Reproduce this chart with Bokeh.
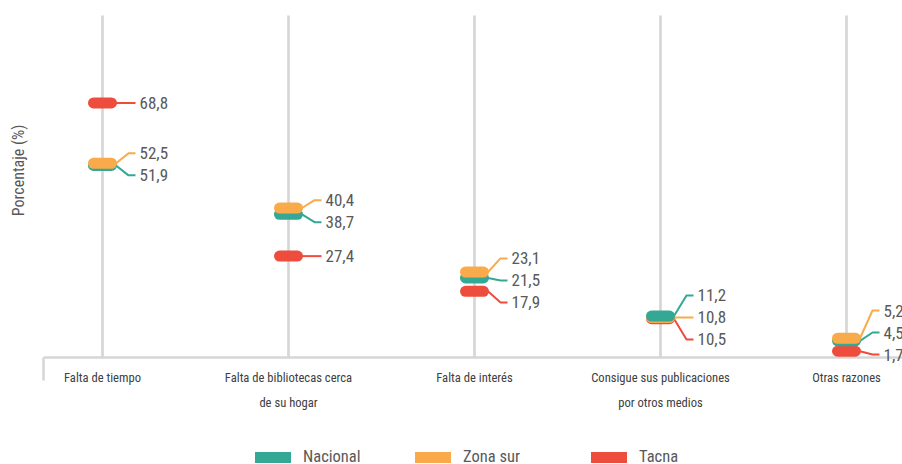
import math
from bokeh.plotting import figure
from bokeh.models import Range1d, Legend, LegendItem, Label
from bokeh.embed import file_html
from bokeh.resources import INLINE
from bokeh.core.properties import value

# ---------------- data ----------------
categories = [
    "Falta de tiempo",
    "Falta de bibliotecas cerca\nde su hogar",
    "Falta de interés",
    "Consigue sus publicaciones\npor otros medios",
    "Otras razones",
]
series_names = ["Nacional", "Zona sur", "Tacna"]
nacional = [51.9, 38.7, 21.5, 11.2, 4.5]
zona_sur = [52.5, 40.4, 23.1, 10.8, 5.2]
tacna = [68.8, 27.4, 17.9, 10.5, 1.7]
series_values = [nacional, zona_sur, tacna]
colors = ["#34A895", "#F9AB4B", "#EE4D3D"]

FONT = "'Roboto Condensed', 'Noto Sans Condensed', 'Noto Sans ExtraCondensed', Roboto, sans-serif"
TEXT_COLOR = "#595959"
GRID_COLOR = "#d6d6d6"

# ---------------- layout (pixels) ----------------
W, H = 902, 464
X0_PX = 102          # pixel position of first category
STEP_PX = 186        # pixels between categories
Y0_PX = 357          # pixel row of value 0
PX_Y = 3.70          # pixels per percentage point
AXIS_LEFT_PX = 43
GRID_TOP_PX = 15

x_start = -X0_PX / STEP_PX
x_end = (W - X0_PX) / STEP_PX
y_end = Y0_PX / PX_Y
y_start = -(H - Y0_PX) / PX_Y
px_x = STEP_PX
px_y = PX_Y

def dx(px):
    return px / px_x

def dy(px):
    return px / px_y

p = figure(width=W, height=H, x_range=Range1d(x_start, x_end), y_range=Range1d(y_start, y_end),
           output_backend="svg", toolbar_location=None,
           min_border=0, min_border_left=0, min_border_right=0, min_border_top=0, min_border_bottom=0)
p.outline_line_color = None
p.xaxis.visible = False
p.yaxis.visible = False
p.xgrid.grid_line_color = None
p.ygrid.grid_line_color = None

cat_x = list(range(len(categories)))
axis_left = x_start + dx(AXIS_LEFT_PX)
grid_top = (Y0_PX - GRID_TOP_PX) / PX_Y

# vertical gridlines at each category
p.segment(x0=cat_x, x1=cat_x, y0=[0] * len(cat_x), y1=[grid_top] * len(cat_x),
          line_color=GRID_COLOR, line_width=2.7)
# baseline axis + left bracket
p.segment(x0=[axis_left], x1=[x_end], y0=[0], y1=[0], line_color=GRID_COLOR, line_width=2.5)
p.segment(x0=[axis_left], x1=[axis_left], y0=[0], y1=[-dy(23)], line_color=GRID_COLOR, line_width=2.5)

# category labels
p.text(x=cat_x, y=[-dy(12)] * len(cat_x), text=categories, text_font=value(FONT),
       text_font_size="12.6px", text_color="#404040", text_align="center", text_baseline="top",
       text_line_height=1.7)

# y title
p.add_layout(Label(x=18, y=H - 170, x_units="screen", y_units="screen", text="Porcentaje (%)",
                   angle=math.pi / 2, text_align="center", text_baseline="middle",
                   text_font=FONT, text_font_size="16px", text_color=TEXT_COLOR))

# ---------------- label placement (spread overlapping labels) ----------------
spacing = dy(22)
min_label_y = dy(3)
half_pill = dx(9)
lx_b, lx_c, lx_t = dx(26), dx(33), dx(37)

def spread(vals):
    order = sorted(range(len(vals)), key=lambda k: -vals[k])
    groups = [[k] for k in order]
    while True:
        placed = []
        for g in groups:
            c = sum(vals[k] for k in g) / len(g)
            n = len(g)
            placed.append((g, [c + (n - 1) / 2 * spacing - j * spacing for j in range(n)]))
        merged = False
        for gi in range(len(placed) - 1):
            if placed[gi][1][-1] - placed[gi + 1][1][0] < spacing - 1e-9:
                groups = groups[:gi] + [groups[gi] + groups[gi + 1]] + groups[gi + 2:]
                merged = True
                break
        if not merged:
            break
    pos = {}
    for g, ys in placed:
        for k, yy in zip(g, ys):
            pos[k] = yy
    low = min(pos.values())
    if low < min_label_y:
        shift = min_label_y - low
        for k in pos:
            pos[k] += shift
    return pos

lead_xs, lead_ys, lead_c = [], [], []
txt_x, txt_y, txt = [], [], []
pills = []
for i in cat_x:
    vals = [s[i] for s in series_values]
    pos = spread(vals)
    for k, v in enumerate(vals):
        ly = pos[k]
        if abs(ly - v) > 1e-6:
            lead_xs.append([i + half_pill + dx(4.5), i + lx_b, i + lx_c])
            lead_ys.append([v, ly, ly])
        else:
            lead_xs.append([i + half_pill, i + lx_c])
            lead_ys.append([v, v])
        lead_c.append(colors[k])
        txt_x.append(i + lx_t)
        txt_y.append(ly)
        txt.append(f"{v:.1f}".replace(".", ","))
    for k in sorted(range(len(vals)), key=lambda k: vals[k]):
        pills.append((i, vals[k], k))

p.multi_line(xs=lead_xs, ys=lead_ys, line_color=lead_c, line_width=2)

legend_renderers = {}
for (i, v, k) in pills:
    r = p.line(x=[i - half_pill, i + half_pill], y=[v, v],
               line_color=colors[k], line_width=11, line_cap="round")
    legend_renderers.setdefault(k, r)

p.text(x=txt_x, y=txt_y, text=txt, text_font=value(FONT), text_font_size="17px",
       text_color=TEXT_COLOR, text_baseline="middle", text_align="left")

# ---------------- legend (one per series, positioned like the reference) ----------------
legend_x_px = [255, 415, 591]
for k, (name, lx) in enumerate(zip(series_names, legend_x_px)):
    lg = Legend(items=[LegendItem(label=name, renderers=[legend_renderers[k]])], location=(lx, -2),
                orientation="horizontal", glyph_width=36, glyph_height=12, label_height=12,
                label_standoff=12, padding=0, margin=0, border_line_color=None,
                background_fill_alpha=0, label_text_font=FONT, label_text_font_size="16.5px",
                label_text_color=TEXT_COLOR)
    p.add_layout(lg)

open("out.html", "w").write(file_html(p, INLINE))
